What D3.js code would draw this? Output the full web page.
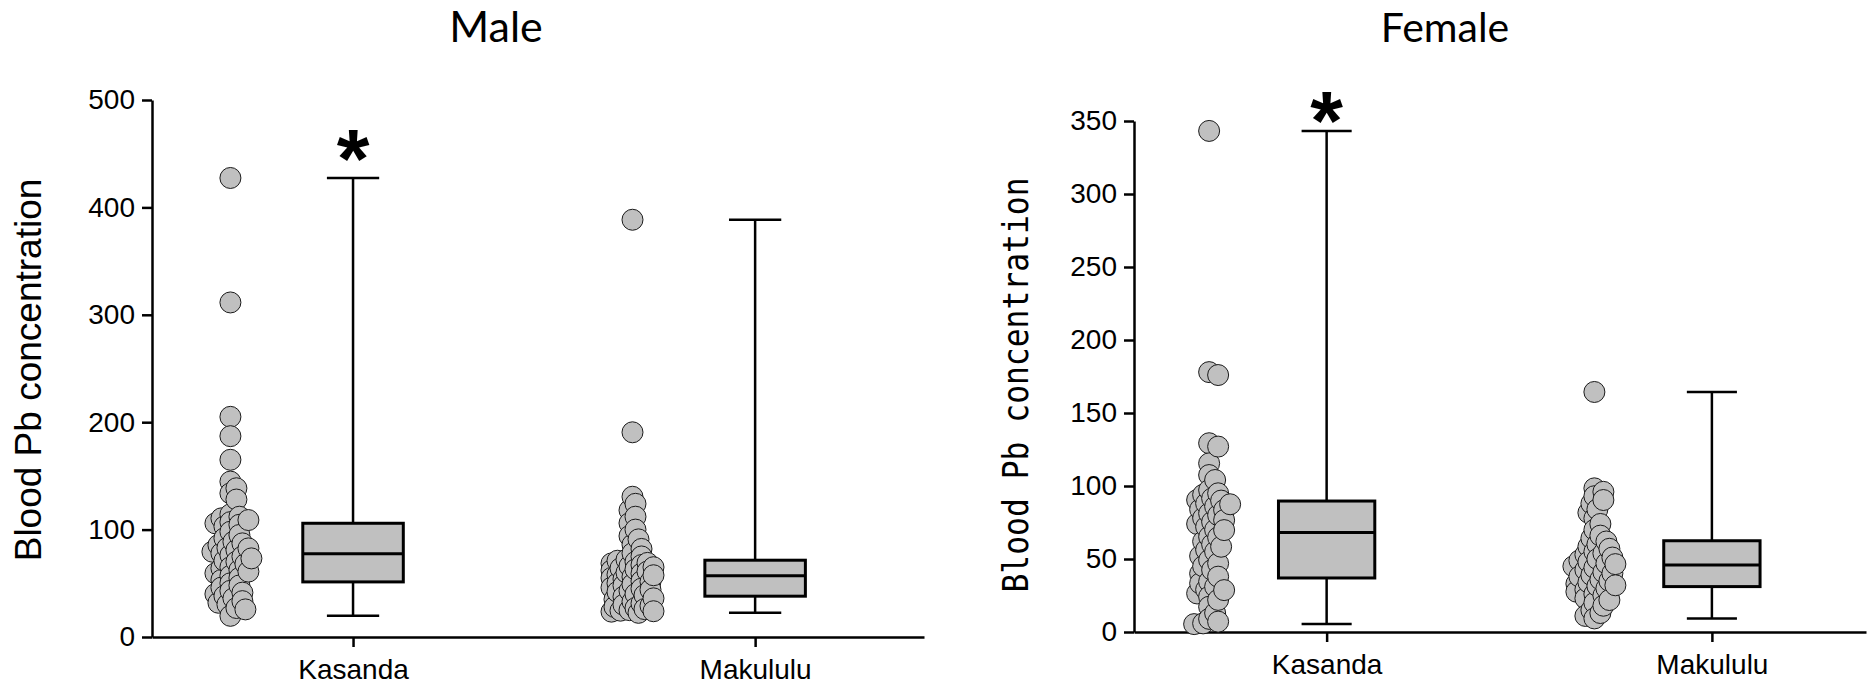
<!DOCTYPE html>
<html>
<head>
<meta charset="utf-8">
<script src="https://cdn.jsdelivr.net/npm/d3@7"></script>
<style>
  html, body { margin: 0; padding: 0; background: #fff; }
  svg { display: block; }
</style>
</head>
<body>
<svg id="chart" width="1868" height="684"></svg>
<script>
// ---- data ---------------------------------------------------------------
const categories = ["Kasanda", "Makululu"];

// Blood Pb concentration, individual measurements
const maleKasanda = [427.4, 311.5, 205, 187, 165, 144.7, 138.5, 133.8, 128, 114.2, 112, 110.5, 108.9, 107,
  105.8, 104.5, 103, 98, 95, 92, 88.7, 87.2, 85.6, 83, 82.5, 81, 79.4, 78,
  76.3, 75, 73.2, 71, 70.1, 68, 65, 64, 62.4, 60.9, 59.3, 57, 55, 53.1,
  50, 48, 46, 43, 41.3, 40, 38.2, 36, 33.4, 31.9, 30.3, 27, 25.7, 19.7];
const maleMakululu = [388.5, 190.6, 130.6, 124, 118, 112, 106, 100, 94, 90.9, 86, 82, 78, 75, 72,
  71, 70, 69, 68.5, 67, 66, 65, 64, 63, 62, 61, 60, 59, 58, 57.5,
  56, 55, 54, 52, 51.5, 50, 49, 48, 46, 45, 44, 43, 42, 40, 39,
  37.5, 36, 35, 33, 31.3, 30, 29, 28, 27, 26, 25, 24.5, 24, 23.6, 22.5];
const femaleKasanda = [343.2, 178, 176, 129.3, 127, 115.5, 107.5, 104.1, 97.2, 95, 94, 91.5, 90.4, 90,
  88, 87.5, 86, 84, 83.5, 81.2, 80, 78, 76.6, 75.4, 74, 72, 70, 69.8,
  65.2, 64.8, 62, 60, 58.4, 56.2, 55, 52, 49.3, 47, 45, 42.5, 40, 37.9,
  34.5, 33.3, 31, 29, 28.7, 26.4, 24.2, 22, 17.3, 13, 9, 7.1, 5.9, 5.4];
const femaleMakululu = [164.4, 98.4, 96, 93, 90.4, 88, 84, 81.7, 77.8, 74, 70, 66, 64.2,
  62, 60, 58.5, 57, 55, 53.9, 53, 51, 50, 49, 48, 47, 46.5,
  45, 44, 42.5, 41, 40.2, 39, 38, 36, 35, 34, 33, 32, 31.5,
  29.9, 29, 27.6, 26, 25, 23, 21.9, 20, 18, 15, 13, 11, 9.3];

// Box summaries: [min, Q1, median, Q3, max]
const maleKasandaBox = [19.7, 51.3, 77.4, 105.9, 427.4];
const maleMakululuBox = [22.5, 38, 57, 71.5, 388.5];
const femaleKasandaBox = [5.4, 37.0, 68.1, 89.7, 343.2];
const femaleMakululuBox = [9.3, 31.1, 45.9, 62.5, 164.4];

// Significance marks per category
const maleMarks = ["*", ""];
const femaleMarks = ["*", ""];

// Axis ticks
const maleTicks = [0, 100, 200, 300, 400, 500];
const femaleTicks = [0, 50, 100, 150, 200, 250, 300, 350];

const yTitle = "Blood Pb concentration";

// ---- layout -------------------------------------------------------------
const panels = [
  {
    title: "Male", titleX: 496, titleSize: 43,
    groups: [maleKasanda, maleMakululu], boxes: [maleKasandaBox, maleMakululuBox],
    marks: maleMarks, ticks: maleTicks,
    left: 152, right: 924, top: 100, bottom: 637, xEnd: 1.92,
    labelX: 41, labelY: 370, labelMono: false, labelLen: null, markGap: 39
  },
  {
    title: "Female", titleX: 1445, titleSize: 41,
    groups: [femaleKasanda, femaleMakululu], boxes: [femaleKasandaBox, femaleMakululuBox],
    marks: femaleMarks, ticks: femaleTicks,
    left: 1134, right: 1866, top: 121, bottom: 632, xEnd: 1.9,
    labelX: 1028, labelY: 385, labelMono: true, labelLen: 415, markGap: 30
  }
];

const svg = d3.select("#chart");
const FILL = "#c0c0c0";
const R = 10.5;

// Spread points sideways so that dots with similar values do not sit on top of each other
function swarm(values, y, minDist, step, maxOff) {
  const pts = values.map(v => ({ v, py: y(v) })).sort((a, b) => a.py - b.py);
  const placed = [];
  const nSlots = Math.floor(maxOff / step);
  for (const p of pts) {
    let best = 0, bestScore = -Infinity;
    for (let k = 0; k <= nSlots * 2; k++) {
      const off = (k % 2 ? 1 : -1) * Math.ceil(k / 2) * step;
      let dmin = Infinity;
      for (const q of placed) {
        const d = Math.hypot(q.dx - off, q.py - p.py);
        if (d < dmin) dmin = d;
      }
      if (dmin >= minDist) { best = off; bestScore = Infinity; break; }
      if (dmin > bestScore) { bestScore = dmin; best = off; }
    }
    p.dx = best;
    placed.push(p);
  }
  return placed;
}

panels.forEach(P => {
  const g = svg.append("g");
  const yMax = P.ticks[P.ticks.length - 1];
  const y = d3.scaleLinear().domain([0, yMax]).range([P.bottom, P.top]);
  const x = d3.scaleLinear().domain([0, P.xEnd]).range([P.left, P.right]);
  const step = x(1) - x(0);
  const catPos = categories.map((c, i) => i + 0.5);

  // title
  g.append("text")
    .attr("x", P.titleX).attr("y", 42)
    .attr("text-anchor", "middle")
    .attr("font-family", "Lato, 'Open Sans', sans-serif")
    .attr("font-size", P.titleSize)
    .attr("fill", "#000")
    .text(P.title);

  // y axis
  const yAxis = g.append("g")
    .attr("transform", `translate(${P.left},0)`)
    .call(d3.axisLeft(y).tickValues(P.ticks).tickSize(10).tickSizeOuter(0).tickPadding(7).tickFormat(d3.format("d")));
  yAxis.select(".domain").attr("stroke", "#000").attr("stroke-width", 2.5);
  yAxis.selectAll(".tick line").attr("stroke", "#000").attr("stroke-width", 2.5);
  yAxis.selectAll(".tick text")
    .attr("font-family", "'Liberation Sans', Arial, sans-serif")
    .attr("font-size", 28).attr("fill", "#000");

  // x axis
  const xAxis = g.append("g")
    .attr("transform", `translate(0,${P.bottom})`)
    .call(d3.axisBottom(x).tickValues(catPos).tickSize(10).tickSizeOuter(0).tickPadding(12)
      .tickFormat((d, i) => categories[i]));
  xAxis.select(".domain").attr("stroke", "#000").attr("stroke-width", 2.5);
  xAxis.selectAll(".tick line").attr("stroke", "#000").attr("stroke-width", 2.5);
  xAxis.selectAll(".tick text")
    .attr("font-family", "'Liberation Sans', Arial, sans-serif")
    .attr("font-size", 28).attr("fill", "#000");

  // y axis title
  const lab = g.append("text")
    .attr("transform", `translate(${P.labelX},${P.labelY}) rotate(-90)`)
    .attr("text-anchor", "middle")
    .attr("fill", "#000")
    .text(yTitle);
  if (P.labelMono) {
    lab.attr("font-family", "'DejaVu Sans Mono', 'Liberation Mono', monospace")
      .attr("font-size", 36)
      .attr("textLength", P.labelLen)
      .attr("lengthAdjust", "spacingAndGlyphs");
  } else {
    lab.attr("font-family", "'Liberation Sans', Arial, sans-serif").attr("font-size", 37);
  }

  // groups
  P.groups.forEach((vals, i) => {
    const cx = x(catPos[i]);
    const dotX = x(catPos[i] - 0.305);
    const [mn, q1, med, q3, mx] = P.boxes[i];
    const boxW = step * 0.25, capW = step * 0.13;

    // scattered dots
    const pts = swarm(vals, y, 7.5, 3, 22).sort((a, b) => a.dx - b.dx);
    g.append("g").selectAll("circle").data(pts).join("circle")
      .attr("cx", d => dotX + d.dx)
      .attr("cy", d => y(d.v))
      .attr("r", R)
      .attr("fill", FILL)
      .attr("stroke", "#1a1a1a")
      .attr("stroke-width", 1);

    // whiskers
    const bx = g.append("g").attr("stroke", "#000").attr("fill", "none");
    bx.append("line").attr("x1", cx).attr("x2", cx).attr("y1", y(mx)).attr("y2", y(q3)).attr("stroke-width", 2.5);
    bx.append("line").attr("x1", cx).attr("x2", cx).attr("y1", y(q1)).attr("y2", y(mn)).attr("stroke-width", 2.5);
    bx.append("line").attr("x1", cx - capW / 2).attr("x2", cx + capW / 2).attr("y1", y(mx)).attr("y2", y(mx)).attr("stroke-width", 2.5);
    bx.append("line").attr("x1", cx - capW / 2).attr("x2", cx + capW / 2).attr("y1", y(mn)).attr("y2", y(mn)).attr("stroke-width", 2.5);
    // box
    bx.append("rect")
      .attr("x", cx - boxW / 2).attr("width", boxW)
      .attr("y", y(q3)).attr("height", y(q1) - y(q3))
      .attr("fill", FILL).attr("stroke-width", 3);
    bx.append("line").attr("x1", cx - boxW / 2).attr("x2", cx + boxW / 2).attr("y1", y(med)).attr("y2", y(med)).attr("stroke-width", 3);

    // significance mark
    if (P.marks[i]) {
      const fs = 84;
      g.append("text")
        .attr("x", cx).attr("y", y(mx) - P.markGap + fs * 0.58)
        .attr("text-anchor", "middle")
        .attr("font-family", "'Liberation Sans', Arial, sans-serif")
        .attr("font-weight", "bold")
        .attr("font-size", fs)
        .attr("fill", "#000")
        .text(P.marks[i]);
    }
  });
});
</script>
</body>
</html>
